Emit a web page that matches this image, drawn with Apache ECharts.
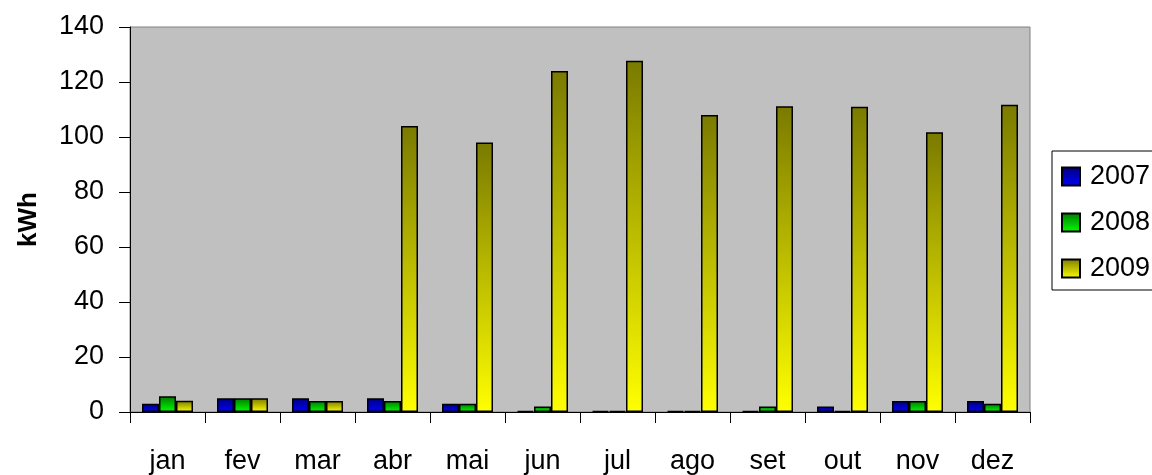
<!DOCTYPE html>
<html>
<head>
<meta charset="utf-8">
<script src="https://cdn.jsdelivr.net/npm/echarts@6/dist/echarts.min.js"></script>
<style>
    html, body { margin: 0; padding: 0; background: #fff; }
    #chart { width: 1152px; height: 475px; }
</style>
</head>
<body>
<div id="chart"></div>
<script>
    const months = ['jan', 'fev', 'mar', 'abr', 'mai', 'jun', 'jul', 'ago', 'set', 'out', 'nov', 'dez'];
    const years = ['2007', '2008', '2009'];
    const v2007 = [3, 5, 5, 5, 3, 0.4, 0.4, 0.4, 0.4, 2, 4, 4];
    const v2008 = [5.7, 5, 4, 4, 3, 2, 0.4, 0.4, 2, 0.4, 4, 3];
    const v2009 = [4.1, 5, 4, 104, 98, 124, 127.7, 108, 111.2, 111, 101.7, 111.7];
    const yTicks = [0, 20, 40, 60, 80, 100, 120, 140];

    // gradientes estilo excel: escuro em cima, claro em baixo
    function grad(top, bottom) {
        return new echarts.graphic.LinearGradient(0, 0, 0, 1, [
            {offset: 0, color: top},
            {offset: 1, color: bottom}
        ]);
    }
    const colors = [
        grad('#00007a', '#0000ff'),
        grad('#007a00', '#00ff00'),
        grad('#7a7a00', '#ffff00')
    ];
    const values = [v2007, v2008, v2009];
    const font = 'Liberation Sans, Arial';

    let myChart = echarts.init(document.getElementById('chart'));
    let option = {
        animation: false,
        grid: {
            left: 130,
            right: 122,
            top: 27,
            bottom: 62,
            show: true,
            backgroundColor: '#c0c0c0',
            borderColor: '#808080',
            borderWidth: 1
        },
        legend: {
            orient: 'vertical',
            left: 1052,
            top: 151,
            padding: [12, 40, 8, 9],
            itemGap: 19,
            itemWidth: 18,
            itemHeight: 18,
            icon: 'rect',
            borderColor: '#000',
            borderWidth: 1,
            data: years,
            textStyle: {
                color: '#000',
                fontSize: 27,
                padding: [0, 0, 0, 5],
                fontFamily: font
            }
        },
        xAxis: {
            type: 'category',
            data: months,
            axisLine: {lineStyle: {color: '#000', width: 1}},
            axisTick: {show: true, length: 11, lineStyle: {color: '#000'}},
            axisLabel: {
                color: '#000',
                fontSize: 27,
                margin: 36,
                fontFamily: font
            }
        },
        yAxis: {
            type: 'value',
            min: yTicks[0],
            max: yTicks[yTicks.length - 1],
            interval: 20,
            name: 'kWh',
            nameLocation: 'middle',
            nameGap: 88,
            nameTextStyle: {
                color: '#000',
                fontSize: 26,
                fontWeight: 'bold',
                fontFamily: font
            },
            axisLine: {show: true, lineStyle: {color: '#000'}},
            axisTick: {show: true, length: 11, lineStyle: {color: '#000'}},
            splitLine: {show: false},
            axisLabel: {
                color: '#000',
                fontSize: 27,
                margin: 26,
                fontFamily: font
            }
        },
        series: years.map((y, i) => ({
            name: y,
            type: 'bar',
            data: values[i],
            barWidth: 17,
            barGap: '0%',
            itemStyle: {
                color: colors[i],
                borderColor: '#000',
                borderWidth: 1.5
            }
        }))
    };
    myChart.setOption(option);
</script>
</body>
</html>
